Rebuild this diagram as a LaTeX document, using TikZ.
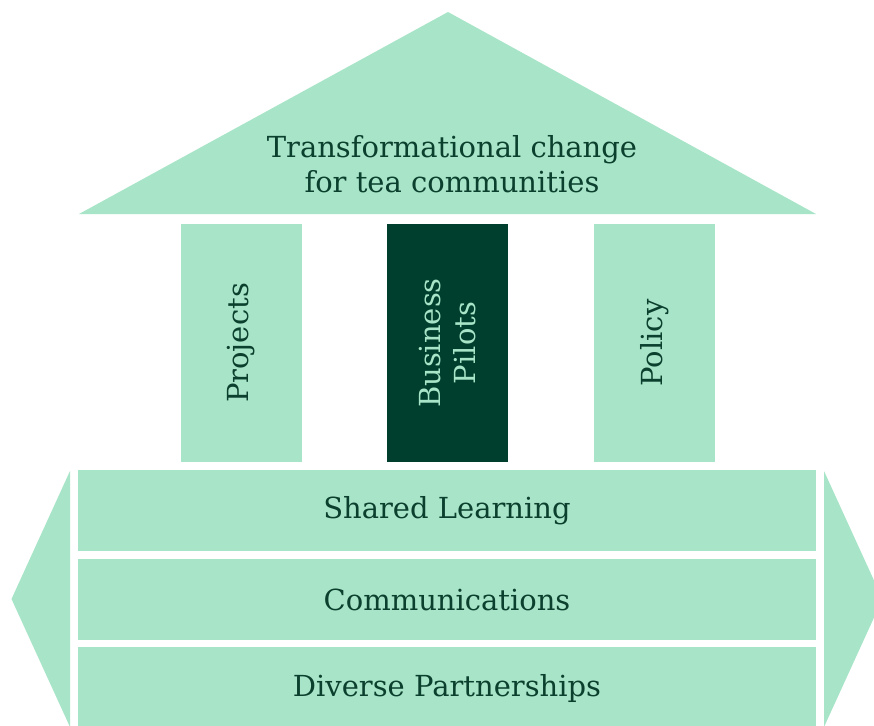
\documentclass[tikz,border=0pt]{standalone}
\usepackage{fontspec}
\setmainfont{DejaVu Serif}
\definecolor{lightg}{HTML}{A8E5C8}
\definecolor{darkg}{HTML}{003F2E}
\definecolor{txtg}{HTML}{0B3F2E}
\begin{document}
\begin{tikzpicture}[x=1pt,y=-1pt,
  shape fill/.style={fill=lightg,draw=none},
  lbl/.style={text=txtg,font=\fontsize{29}{35}\selectfont,align=center,inner sep=0pt},
  pillar/.style={shape fill},
]
\useasboundingbox (0,0) rectangle (874,725);
\clip (0,0) rectangle (874,725);
% roof
\fill[lightg] (448,12) -- (816,214) -- (79,214) -- cycle;
\node[lbl] (title) at (452,164) {Transformational change\\for tea communities};
% pillars
\fill[lightg] (181,224) rectangle (302,462);
\fill[darkg] (387,224) rectangle (508,462);
\fill[lightg] (594,224) rectangle (715,462);
\node[lbl,rotate=90] (proj) at (241.5,343) {Projects};
\node[lbl,rotate=90,text=lightg] (bus) at (447.5,343) {Business\\Pilots};
\node[lbl,rotate=90] (pol) at (654.5,343) {Policy};
% bars
\fill[lightg] (78,470) rectangle (816,551);
\fill[lightg] (78,559) rectangle (816,640);
\fill[lightg] (78,647) rectangle (816,730);
\node[lbl] (shared) at (447,510.5) {Shared Learning};
\node[lbl] (comm) at (447,599.5) {Communications};
\node[lbl] (div) at (447,688) {Diverse Partnerships};
% side arrows
\fill[lightg] (70,471) -- (11.5,599) -- (70,727) -- cycle;
\fill[lightg] (824,471) -- (882.5,599) -- (824,727) -- cycle;
\end{tikzpicture}
\end{document}
